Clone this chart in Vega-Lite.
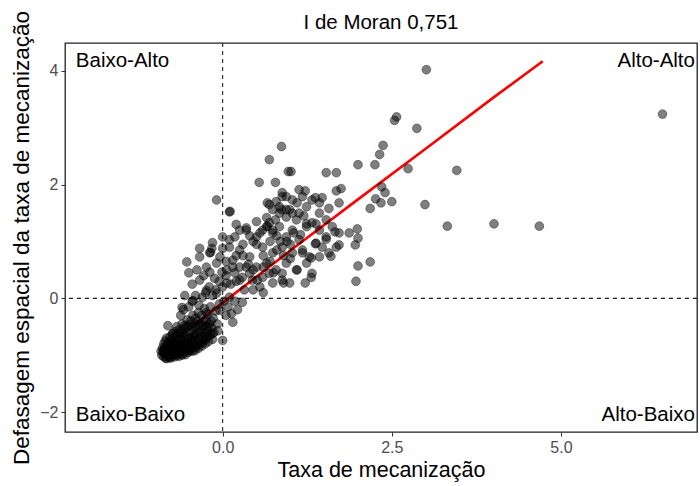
{
  "$schema": "https://vega.github.io/schema/vega-lite/v6.json",
  "width": 632,
  "height": 389,
  "autosize": {"type": "none"},
  "padding": {"left": 65, "top": 43, "right": 3, "bottom": 54},
  "background": "white",
  "config": {
    "view": {"stroke": "#222222", "strokeWidth": 1.3},
    "font": "Liberation Sans",
    "axis": {
      "grid": false, "domain": false, "tickColor": "#333333", "tickSize": 4,
      "labelColor": "#4d4d4d", "labelFontSize": 16, "titleFontSize": 21.5,
      "titleFontWeight": "normal", "titleColor": "#000000", "labelFont": "Liberation Sans", "titleFont": "Liberation Sans"
    },
    "title": {"fontSize": 20.5, "fontWeight": "normal", "font": "Liberation Sans", "color": "#000000"}
  },
  "title": {"text": "I de Moran 0,751", "anchor": "middle", "offset": 11, "dy": 34},
  "datasets": {
    "pts": [
      {"x":3.01,"y":4.02},{"x":6.50,"y":3.24},{"x":4.68,"y":1.27},{"x":4.01,"y":1.31},{"x":3.32,"y":1.27},
      {"x":3.46,"y":2.25},{"x":2.99,"y":1.65},{"x":2.87,"y":2.99},{"x":2.54,"y":3.13},{"x":2.57,"y":3.19},
      {"x":2.74,"y":2.28},{"x":2.37,"y":2.69},{"x":2.32,"y":2.53},{"x":2.00,"y":2.35},{"x":2.25,"y":2.35},
      {"x":1.01,"y":2.23},{"x":1.53,"y":2.21},{"x":1.68,"y":2.21},{"x":1.75,"y":1.93},{"x":1.68,"y":1.89},
      {"x":2.35,"y":1.96},{"x":2.40,"y":1.86},{"x":2.26,"y":1.75},{"x":2.34,"y":1.68},{"x":2.50,"y":1.70},
      {"x":2.18,"y":1.58},{"x":1.22,"y":1.89},{"x":1.18,"y":1.79},{"x":1.10,"y":1.68},{"x":1.37,"y":1.77},
      {"x":1.47,"y":1.77},{"x":1.43,"y":1.68},{"x":1.72,"y":1.68},{"x":1.57,"y":1.58},{"x":1.13,"y":1.50},
      {"x":0.99,"y":1.56},{"x":0.88,"y":1.86},{"x":1.24,"y":1.31},{"x":1.38,"y":1.31},{"x":1.66,"y":1.17},
      {"x":1.87,"y":1.15},{"x":1.99,"y":1.22},{"x":2.00,"y":1.06},{"x":1.96,"y":0.94},{"x":1.72,"y":0.94},
      {"x":1.60,"y":0.74},{"x":1.53,"y":1.04},{"x":1.37,"y":0.96},{"x":1.47,"y":0.90},{"x":1.31,"y":0.71},
      {"x":1.18,"y":0.80},{"x":1.10,"y":0.50},{"x":1.31,"y":0.37},{"x":1.22,"y":0.27},{"x":2.00,"y":0.57},
      {"x":2.18,"y":0.64},{"x":1.97,"y":0.30},{"x":0.88,"y":0.44},{"x":0.99,"y":0.27},{"x":0.87,"y":2.67},
      {"x":0.69,"y":2.44},{"x":0.54,"y":2.04},{"x":0.78,"y":2.04},{"x":-0.09,"y":1.73},{"x":0.10,"y":1.52},
      {"x":0.11,"y":1.53},{"x":0.97,"y":2.23},{"x":0.66,"y":1.68},{"x":0.79,"y":1.70},{"x":0.88,"y":1.79},
      {"x":0.87,"y":1.56},{"x":0.94,"y":1.43},{"x":0.35,"y":1.24},{"x":0.65,"y":1.26},{"x":0.74,"y":1.20},
      {"x":0.18,"y":1.08},{"x":-0.34,"y":0.88},{"x":-0.16,"y":0.88},{"x":0.00,"y":0.88},{"x":-0.18,"y":0.81},
      {"x":-0.53,"y":0.64},{"x":-0.38,"y":0.50},{"x":-0.19,"y":0.46},{"x":-0.34,"y":0.32},{"x":-0.01,"y":0.46},
      {"x":0.06,"y":0.27},{"x":0.25,"y":0.32},{"x":0.40,"y":0.44},{"x":0.51,"y":0.32},{"x":0.69,"y":0.44},
      {"x":0.90,"y":0.27},{"x":-0.24,"y":0.14},{"x":-0.09,"y":0.09},{"x":0.10,"y":0.02},{"x":0.29,"y":-0.07},
      {"x":-0.56,"y":0.05},{"x":-0.44,"y":-0.04},{"x":-0.60,"y":-0.16},{"x":-0.24,"y":-0.25},{"x":-0.04,"y":-0.21},
      {"x":0.13,"y":-0.27},{"x":0.15,"y":-0.42},{"x":-0.07,"y":-0.57},{"x":0.00,"y":-0.74},{"x":-0.81,"y":-0.48},
      {"x":-0.74,"y":-0.62},
      {"x":0.35,"y":1.20},{"x":0.50,"y":1.08},{"x":0.66,"y":1.27},{"x":0.74,"y":1.15},{"x":0.84,"y":1.26},
      {"x":0.94,"y":1.08},{"x":1.03,"y":1.20},{"x":1.13,"y":1.03},{"x":0.59,"y":0.90},{"x":0.74,"y":0.80},
      {"x":0.88,"y":0.90},{"x":1.03,"y":0.80},{"x":1.18,"y":0.85},{"x":0.25,"y":0.85},{"x":0.40,"y":0.73},
      {"x":0.10,"y":0.90},{"x":0.15,"y":0.67},{"x":0.50,"y":0.55},{"x":0.65,"y":0.62},{"x":0.79,"y":0.50},
      {"x":0.94,"y":0.62},{"x":1.09,"y":0.50},{"x":1.24,"y":0.62},{"x":1.32,"y":0.44},{"x":0.29,"y":0.37},
      {"x":0.44,"y":0.32},{"x":0.59,"y":0.37},{"x":0.74,"y":0.27},{"x":0.88,"y":0.32},{"x":0.06,"y":0.50},
      {"x":-0.09,"y":0.62},{"x":-0.24,"y":0.55},{"x":-0.34,"y":0.73},{"x":-0.19,"y":0.80},{"x":-0.04,"y":0.73},
      {"x":0.00,"y":1.08},{"x":0.10,"y":1.03},{"x":0.25,"y":1.20},{"x":0.59,"y":1.20},{"x":0.69,"y":1.33},
      {"x":0.84,"y":1.50},{"x":0.74,"y":1.56},{"x":0.65,"y":1.42},{"x":0.94,"y":1.56},{"x":1.03,"y":1.50},
      {"x":1.09,"y":1.38},{"x":1.24,"y":1.26},{"x":1.32,"y":1.33},{"x":1.43,"y":1.20},{"x":1.53,"y":1.08},
      {"x":1.38,"y":0.97},{"x":1.28,"y":0.73},{"x":1.43,"y":0.73},{"x":1.57,"y":0.80},{"x":1.68,"y":0.90},
      {"x":1.72,"y":1.15},{"x":1.53,"y":1.38},{"x":1.62,"y":1.26},{"x":1.43,"y":1.50},{"x":1.24,"y":1.61},
      {"x":1.32,"y":1.73},{"x":1.13,"y":1.91},{"x":0.94,"y":1.79},{"x":1.03,"y":1.73},{"x":0.84,"y":1.61},
      {"x":0.69,"y":1.65},
      {"x":0.45,"y":1.00},{"x":0.55,"y":1.15},{"x":0.70,"y":1.00},{"x":0.80,"y":1.10},{"x":0.90,"y":0.75},
      {"x":1.00,"y":0.95},{"x":0.60,"y":0.55},{"x":0.35,"y":0.55},{"x":0.20,"y":0.30},{"x":0.45,"y":0.15},
      {"x":0.60,"y":0.10},{"x":0.75,"y":0.45},{"x":0.30,"y":0.75},{"x":0.05,"y":0.65},{"x":-0.12,"y":0.35},
      {"x":-0.28,"y":0.40},{"x":-0.45,"y":0.25},{"x":-0.50,"y":0.45},{"x":-0.15,"y":0.98},{"x":0.20,"y":1.30},
      {"x":0.50,"y":1.35},{"x":0.78,"y":1.38},{"x":1.15,"y":1.12},{"x":1.20,"y":1.45},
      {"x":-0.90,"y":-1.00},{"x":-0.88,"y":-0.95},{"x":-0.87,"y":-1.03},{"x":-0.86,"y":-0.90},{"x":-0.85,"y":-0.98},
      {"x":-0.84,"y":-1.05},{"x":-0.83,"y":-0.93},{"x":-0.82,"y":-0.85},{"x":-0.81,"y":-1.00},{"x":-0.80,"y":-0.95},
      {"x":-0.80,"y":-0.88},{"x":-0.79,"y":-1.04},{"x":-0.78,"y":-0.80},{"x":-0.77,"y":-0.97},{"x":-0.76,"y":-0.91},
      {"x":-0.75,"y":-1.02},{"x":-0.74,"y":-0.85},{"x":-0.73,"y":-0.95},{"x":-0.72,"y":-0.78},{"x":-0.71,"y":-0.99},
      {"x":-0.70,"y":-0.88},{"x":-0.69,"y":-0.93},{"x":-0.68,"y":-0.82},{"x":-0.67,"y":-1.00},{"x":-0.66,"y":-0.75},
      {"x":-0.65,"y":-0.90},{"x":-0.64,"y":-0.96},{"x":-0.63,"y":-0.84},{"x":-0.62,"y":-0.70},{"x":-0.61,"y":-0.92},
      {"x":-0.60,"y":-0.79},{"x":-0.59,"y":-0.98},{"x":-0.58,"y":-0.87},{"x":-0.57,"y":-0.72},{"x":-0.56,"y":-0.94},
      {"x":-0.55,"y":-0.82},{"x":-0.54,"y":-0.66},{"x":-0.53,"y":-0.89},{"x":-0.52,"y":-0.77},{"x":-0.51,"y":-0.95},
      {"x":-0.50,"y":-0.70},{"x":-0.49,"y":-0.85},{"x":-0.48,"y":-0.60},{"x":-0.47,"y":-0.91},{"x":-0.46,"y":-0.78},
      {"x":-0.45,"y":-0.68},{"x":-0.44,"y":-0.86},{"x":-0.43,"y":-0.55},{"x":-0.42,"y":-0.74},{"x":-0.41,"y":-0.92},
      {"x":-0.40,"y":-0.64},{"x":-0.39,"y":-0.82},{"x":-0.38,"y":-0.50},{"x":-0.37,"y":-0.71},{"x":-0.36,"y":-0.88},
      {"x":-0.35,"y":-0.60},{"x":-0.34,"y":-0.77},{"x":-0.33,"y":-0.45},{"x":-0.32,"y":-0.67},{"x":-0.31,"y":-0.84},
      {"x":-0.30,"y":-0.55},{"x":-0.29,"y":-0.73},{"x":-0.28,"y":-0.40},{"x":-0.27,"y":-0.62},{"x":-0.26,"y":-0.80},
      {"x":-0.25,"y":-0.50},{"x":-0.24,"y":-0.68},{"x":-0.22,"y":-0.58},{"x":-0.21,"y":-0.76},{"x":-0.20,"y":-0.45},
      {"x":-0.18,"y":-0.64},{"x":-0.16,"y":-0.52},{"x":-0.15,"y":-0.72},{"x":-0.13,"y":-0.60},{"x":-0.87,"y":-0.80},
      {"x":-0.89,"y":-0.87},{"x":-0.91,"y":-0.93},{"x":-0.85,"y":-0.75},{"x":-0.83,"y":-0.70},{"x":-0.78,"y":-0.68},
      {"x":-0.74,"y":-0.62},{"x":-0.70,"y":-0.58},{"x":-0.68,"y":-0.50},{"x":-0.64,"y":-0.55},{"x":-0.60,"y":-0.45},
      {"x":-0.56,"y":-0.48},{"x":-0.52,"y":-0.38},{"x":-0.47,"y":-0.40},{"x":-0.44,"y":-0.30},{"x":-0.40,"y":-0.35},
      {"x":-0.36,"y":-0.25},{"x":-0.31,"y":-0.30},{"x":-0.27,"y":-0.18},{"x":-0.22,"y":-0.28},{"x":-0.18,"y":-0.15},
      {"x":-0.14,"y":-0.35},{"x":-0.10,"y":-0.22},{"x":-0.08,"y":-0.45},{"x":-0.05,"y":-0.10},{"x":0.02,"y":-0.05},
      {"x":0.05,"y":-0.30},{"x":0.08,"y":-0.15},{"x":0.18,"y":-0.05},{"x":0.22,"y":-0.20},{"x":-0.62,"y":-0.30},
      {"x":-0.58,"y":-0.20},{"x":-0.50,"y":-0.15},{"x":-0.45,"y":-0.05},{"x":-0.40,"y":0.05},{"x":-0.35,"y":-0.12},
      {"x":-0.30,"y":0.02},{"x":-0.25,"y":0.10},{"x":-0.20,"y":0.20},{"x":-0.15,"y":0.05},{"x":-0.10,"y":0.15},
      {"x":-0.05,"y":0.30},{"x":0.00,"y":0.20},{"x":0.05,"y":0.40},{"x":0.12,"y":0.25},{"x":0.18,"y":0.45},
      {"x":0.25,"y":0.55},{"x":0.32,"y":0.15},{"x":0.38,"y":0.60},{"x":0.45,"y":0.50},{"x":0.55,"y":0.20},
      {"x":0.60,"y":0.75},{"x":0.70,"y":0.65},{"x":0.80,"y":0.85},{"x":0.85,"y":1.00},{"x":0.95,"y":1.00},
      {"x":1.00,"y":0.70},{"x":1.05,"y":1.15},{"x":0.50,"y":0.95},{"x":0.40,"y":1.10},{"x":0.30,"y":0.95},
      {"x":0.20,"y":0.75},{"x":0.15,"y":0.55},
      {"x":-0.86,"y":-0.97},{"x":-0.82,"y":-0.99},{"x":-0.78,"y":-0.93},{"x":-0.76,"y":-0.86},{"x":-0.72,"y":-0.90},
      {"x":-0.69,"y":-0.97},{"x":-0.66,"y":-0.87},{"x":-0.62,"y":-0.81},{"x":-0.58,"y":-0.91},{"x":-0.54,"y":-0.84},
      {"x":-0.50,"y":-0.80},{"x":-0.46,"y":-0.72},{"x":-0.42,"y":-0.66},{"x":-0.84,"y":-0.92},{"x":-0.80,"y":-1.02},
      {"x":-0.74,"y":-0.98},{"x":-0.70,"y":-0.80},{"x":-0.64,"y":-0.72},{"x":-0.60,"y":-0.65},{"x":-0.56,"y":-0.60},
      {"x":-0.88,"y":-0.92},{"x":-0.85,"y":-0.86},{"x":-0.81,"y":-0.78},{"x":-0.77,"y":-0.74},{"x":-0.73,"y":-0.70},
      {"x":-0.69,"y":-0.66},{"x":-0.65,"y":-0.62},{"x":-0.61,"y":-0.57},{"x":-0.57,"y":-0.53},{"x":-0.53,"y":-0.50},
      {"x":-0.49,"y":-0.46},{"x":-0.45,"y":-0.50},{"x":-0.41,"y":-0.45},{"x":-0.37,"y":-0.40},{"x":-0.33,"y":-0.58},
      {"x":-0.29,"y":-0.48},{"x":-0.25,"y":-0.40},{"x":-0.21,"y":-0.50},{"x":-0.17,"y":-0.40},{"x":-0.83,"y":-1.06},
      {"x":-0.77,"y":-1.05},{"x":-0.71,"y":-1.03},{"x":-0.65,"y":-1.02},{"x":-0.60,"y":-1.00},{"x":-0.55,"y":-0.99},
      {"x":-0.50,"y":-0.92},{"x":-0.45,"y":-0.93},{"x":-0.40,"y":-0.87},{"x":-0.35,"y":-0.82},{"x":-0.30,"y":-0.78},
      {"x":-0.25,"y":-0.72},{"x":-0.20,"y":-0.66},{"x":-0.15,"y":-0.62}
    ],
    "fit": [
      {"x":-0.88,"y":-0.89},{"x":0.0,"y":-0.08},{"x":1.0,"y":0.84},{"x":2.0,"y":1.74},{"x":3.0,"y":2.63},{"x":4.0,"y":3.53},{"x":4.73,"y":4.17}
    ],
    "labL": [{"x":-2.17,"y":4.17,"t":"Baixo-Alto"},{"x":-2.17,"y":-2.05,"t":"Baixo-Baixo"}],
    "labR": [{"x":6.98,"y":4.17,"t":"Alto-Alto"},{"x":6.98,"y":-2.05,"t":"Alto-Baixo"}],
    "h0": [{"y":0}],
    "v0": [{"x":0}]
  },
  "layer": [
    {
      "data": {"name": "h0"},
      "mark": {"type": "rule", "strokeDash": [4, 4], "color": "#222222", "strokeWidth": 1.1},
      "encoding": {"y": {"field": "y", "type": "quantitative", "scale": {"domain": [-2.35, 4.49], "nice": false, "zero": false}}}
    },
    {
      "data": {"name": "v0"},
      "mark": {"type": "rule", "strokeDash": [4, 4], "color": "#222222", "strokeWidth": 1.1},
      "encoding": {"x": {"field": "x", "type": "quantitative", "scale": {"domain": [-2.33, 7.01], "nice": false, "zero": false}}}
    },
    {
      "data": {"name": "fit"},
      "mark": {"type": "line", "color": "#ff0000", "strokeWidth": 2.6},
      "encoding": {
        "x": {"field": "x", "type": "quantitative"},
        "y": {"field": "y", "type": "quantitative"}
      }
    },
    {
      "data": {"name": "pts"},
      "mark": {"type": "circle", "size": 78, "color": "#000000", "fillOpacity": 0.5, "stroke": "#000000", "strokeWidth": 0.7, "strokeOpacity": 0.5},
      "encoding": {
        "x": {"field": "x", "type": "quantitative", "title": "Taxa de mecanização",
              "scale": {"domain": [-2.33, 7.01], "nice": false, "zero": false},
              "axis": {"values": [0, 2.5, 5], "format": ".1f", "titlePadding": 4, "labelPadding": 3}},
        "y": {"field": "y", "type": "quantitative", "title": "Defasagem espacial da taxa de mecanização",
              "scale": {"domain": [-2.35, 4.49], "nice": false, "zero": false},
              "axis": {"values": [-2, 0, 2, 4], "format": "d", "titlePadding": 6, "labelPadding": 3, "titleFontSize": 22.5}}
      }
    },
    {
      "data": {"name": "labL"},
      "mark": {"type": "text", "align": "left", "baseline": "middle", "fontSize": 20.5, "font": "Liberation Sans", "color": "#000000"},
      "encoding": {
        "x": {"field": "x", "type": "quantitative"},
        "y": {"field": "y", "type": "quantitative"},
        "text": {"field": "t"}
      }
    },
    {
      "data": {"name": "labR"},
      "mark": {"type": "text", "align": "right", "baseline": "middle", "fontSize": 20.5, "font": "Liberation Sans", "color": "#000000"},
      "encoding": {
        "x": {"field": "x", "type": "quantitative"},
        "y": {"field": "y", "type": "quantitative"},
        "text": {"field": "t"}
      }
    }
  ]
}
